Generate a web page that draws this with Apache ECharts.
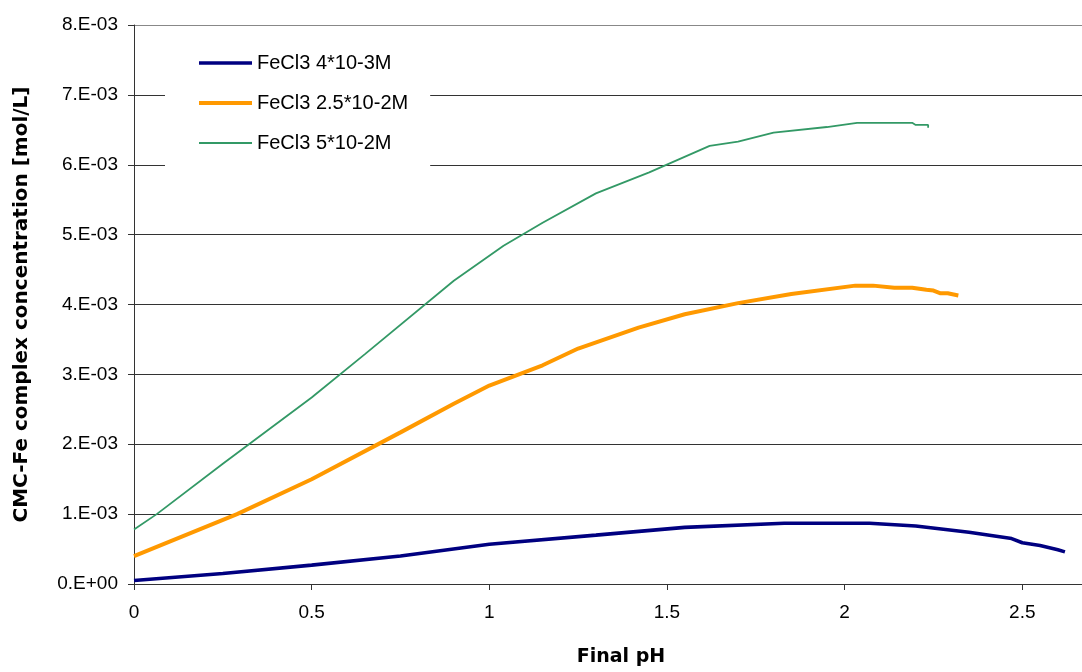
<!DOCTYPE html>
<html>
<head>
<meta charset="utf-8">
<script src="https://cdn.jsdelivr.net/npm/echarts@6/dist/echarts.min.js"></script>
<style>
html,body{margin:0;padding:0;background:#fff;}
#chart{width:1082px;height:672px;}
</style>
</head>
<body>
<div id="chart"></div>
<script>
// Values in units of 1e-3 mol/L
const seriesNames = ['FeCl3 4*10-3M', 'FeCl3 2.5*10-2M', 'FeCl3 5*10-2M'];
const blueX = [0, 0.25, 0.5, 0.75, 1.0, 1.3, 1.55, 1.83, 2.07, 2.2, 2.35, 2.47, 2.5, 2.55, 2.6, 2.62];
const blueY = [0.05, 0.15, 0.27, 0.40, 0.57, 0.70, 0.81, 0.87, 0.87, 0.83, 0.74, 0.65, 0.59, 0.55, 0.49, 0.46];
const orangeX = [0, 0.29, 0.5, 0.75, 0.9, 1.0, 1.15, 1.25, 1.42, 1.55, 1.7, 1.85, 2.03, 2.08, 2.14, 2.19, 2.23, 2.25, 2.27, 2.29, 2.32];
const orangeY = [0.40, 1.0, 1.50, 2.17, 2.58, 2.84, 3.13, 3.37, 3.67, 3.86, 4.02, 4.15, 4.27, 4.27, 4.24, 4.24, 4.21, 4.20, 4.16, 4.16, 4.13];
const greenX = [0, 0.064, 0.25, 0.5, 0.65, 0.9, 1.04, 1.15, 1.3, 1.45, 1.62, 1.7, 1.8, 1.95, 2.035, 2.19, 2.2, 2.235, 2.235];
const greenY = [0.78, 1.0, 1.72, 2.67, 3.29, 4.34, 4.84, 5.17, 5.59, 5.89, 6.27, 6.33, 6.46, 6.54, 6.6, 6.6, 6.57, 6.57, 6.53];
const xTickValues = [0, 0.5, 1, 1.5, 2, 2.5];
const xTickLabels = ['0', '0.5', '1', '1.5', '2', '2.5'];
const yTickLabels = ['0.E+00', '1.E-03', '2.E-03', '3.E-03', '4.E-03', '5.E-03', '6.E-03', '7.E-03', '8.E-03'];

function zip(xs, ys) { return xs.map((x, i) => [x, ys[i]]); }

const chart = echarts.init(document.getElementById('chart'));
const font = 'Liberation Sans, Arial, sans-serif';
const titleFont = 'DejaVu Sans, sans-serif';
const colors = ['#000080', '#FF9900', '#339966'];
const widths = [3.6, 4, 1.8];
chart.setOption({
  animation: false,
  backgroundColor: '#fff',
  grid: { left: 134, top: 25, right: 0, bottom: 88 },
  legend: {
    orient: 'vertical',
    left: 165,
    top: 39,
    padding: [14, 22, 14, 32],
    itemGap: 20,
    itemWidth: 53,
    itemHeight: 20,
    backgroundColor: '#fff',
    itemStyle: { color: 'rgba(0,0,0,0)', borderWidth: 0, opacity: 0 },
    textStyle: { fontFamily: font, fontSize: 20, color: '#000' },
    data: seriesNames.map((n, i) => ({ name: n, lineStyle: { width: widths[i], color: colors[i] } }))
  },
  xAxis: {
    type: 'value',
    min: 0,
    max: 2.668,
    interval: 0.5,
    name: 'Final pH',
    nameLocation: 'middle',
    nameGap: 64,
    nameTextStyle: { fontFamily: titleFont, fontSize: 19, fontWeight: 'bold', color: '#000', padding: [0, 0, 0, 26] },
    axisLine: { lineStyle: { color: '#333', width: 1 } },
    axisTick: { show: true, length: 6, lineStyle: { color: '#333' } },
    axisLabel: {
      fontFamily: font, fontSize: 19, color: '#000', margin: 19,
      showMaxLabel: false,
      formatter: function (v) {
        const i = xTickValues.findIndex(t => Math.abs(t - v) < 1e-6);
        return i >= 0 ? xTickLabels[i] : '';
      }
    },
    splitLine: { show: false }
  },
  yAxis: {
    type: 'value',
    min: 0,
    max: 8,
    interval: 1,
    name: 'CMC-Fe complex concentration [mol/L]',
    nameLocation: 'middle',
    nameGap: 102,
    nameTextStyle: { fontFamily: titleFont, fontSize: 20, fontWeight: 'bold', color: '#000' },
    axisLine: { show: true, lineStyle: { color: '#333', width: 1 } },
    axisTick: { show: true, length: 6, lineStyle: { color: '#333' } },
    axisLabel: {
      fontFamily: font, fontSize: 19, color: '#000', margin: 16,
      formatter: function (v) { return yTickLabels[Math.round(v)]; }
    },
    splitLine: { show: true, lineStyle: { color: ['#333', '#333', '#333', '#333', '#333', '#333', '#333', '#333', '#888'], width: 1 } }
  },
  series: [
    { name: seriesNames[0], type: 'line', data: zip(blueX, blueY), symbol: 'none',
      lineStyle: { color: colors[0], width: widths[0] }, itemStyle: { color: colors[0] } },
    { name: seriesNames[1], type: 'line', data: zip(orangeX, orangeY), symbol: 'none',
      lineStyle: { color: colors[1], width: widths[1] }, itemStyle: { color: colors[1] } },
    { name: seriesNames[2], type: 'line', data: zip(greenX, greenY), symbol: 'none',
      lineStyle: { color: colors[2], width: widths[2] }, itemStyle: { color: colors[2] } }
  ]
});
</script>
</body>
</html>
